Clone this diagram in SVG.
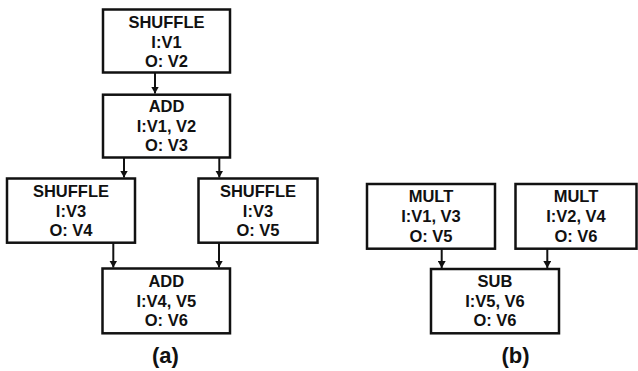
<svg xmlns="http://www.w3.org/2000/svg" width="638" height="371" viewBox="0 0 638 371">
<defs>
<style>
.box{fill:#fff;stroke:#111;stroke-width:2.5}
.t{font-family:"Liberation Sans",Arial,sans-serif;font-weight:bold;font-size:16.5px;fill:#111;text-anchor:middle}
.cap{font-family:"Liberation Sans",Arial,sans-serif;font-weight:bold;font-size:22px;fill:#111;text-anchor:middle}
.c{stroke:#111;stroke-width:2;fill:none;marker-end:url(#ah)}
</style>
<marker id="ah" markerUnits="userSpaceOnUse" markerWidth="10" markerHeight="8" refX="7" refY="4" orient="auto">
<path d="M0,0 L7,4 L0,8 Z" fill="#111"/>
</marker>
</defs>
<g id="connectors">
<line class="c" x1="155" y1="72.5" x2="155" y2="93.5"/>
<line class="c" x1="124" y1="157.5" x2="124" y2="177.5"/>
<line class="c" x1="219.3" y1="157.5" x2="219.3" y2="177.5"/>
<line class="c" x1="113.3" y1="242.7" x2="113.3" y2="267.5"/>
<line class="c" x1="219" y1="242.7" x2="219" y2="267.5"/>
<line class="c" x1="441.7" y1="248.7" x2="441.7" y2="268"/>
<line class="c" x1="547.3" y1="248.7" x2="547.3" y2="268"/>
</g>
<g id="a-shuffle1">
<rect class="box" x="103" y="9.5" width="127" height="63"/>
<text class="t" x="166.5" y="27.5">SHUFFLE</text>
<text class="t" x="166.5" y="47.5">I:V1</text>
<text class="t" x="166.5" y="66.5">O: V2</text>
</g>
<g id="a-add1">
<rect class="box" x="103" y="94.7" width="127" height="62.8"/>
<text class="t" x="166.5" y="112">ADD</text>
<text class="t" x="166.5" y="131.5">I:V1, V2</text>
<text class="t" x="166.5" y="151">O: V3</text>
</g>
<g id="a-shuffle2">
<rect class="box" x="7" y="178.5" width="128" height="64.2"/>
<text class="t" x="71" y="196.5">SHUFFLE</text>
<text class="t" x="71" y="216.5">I:V3</text>
<text class="t" x="71" y="236">O: V4</text>
</g>
<g id="a-shuffle3">
<rect class="box" x="198.5" y="178.5" width="119" height="64.2"/>
<text class="t" x="258" y="196.5">SHUFFLE</text>
<text class="t" x="258" y="216.5">I:V3</text>
<text class="t" x="258" y="236">O: V5</text>
</g>
<g id="a-add2">
<rect class="box" x="102.5" y="268.5" width="127.5" height="64.8"/>
<text class="t" x="166.3" y="287">ADD</text>
<text class="t" x="166.3" y="306.5">I:V4, V5</text>
<text class="t" x="166.3" y="326">O: V6</text>
</g>
<g id="b-mult1">
<rect class="box" x="367" y="184" width="128" height="64.7"/>
<text class="t" x="431" y="202">MULT</text>
<text class="t" x="431" y="222">I:V1, V3</text>
<text class="t" x="431" y="241.5">O: V5</text>
</g>
<g id="b-mult2">
<rect class="box" x="515.5" y="184" width="121" height="64.7"/>
<text class="t" x="576" y="202">MULT</text>
<text class="t" x="576" y="222">I:V2, V4</text>
<text class="t" x="576" y="241.5">O: V6</text>
</g>
<g id="b-sub">
<rect class="box" x="431" y="269" width="128" height="64.3"/>
<text class="t" x="495" y="287">SUB</text>
<text class="t" x="495" y="306.5">I:V5, V6</text>
<text class="t" x="495" y="326">O: V6</text>
</g>
<text class="cap" x="165.5" y="363">(a)</text>
<text class="cap" x="515.5" y="363">(b)</text>
</svg>
